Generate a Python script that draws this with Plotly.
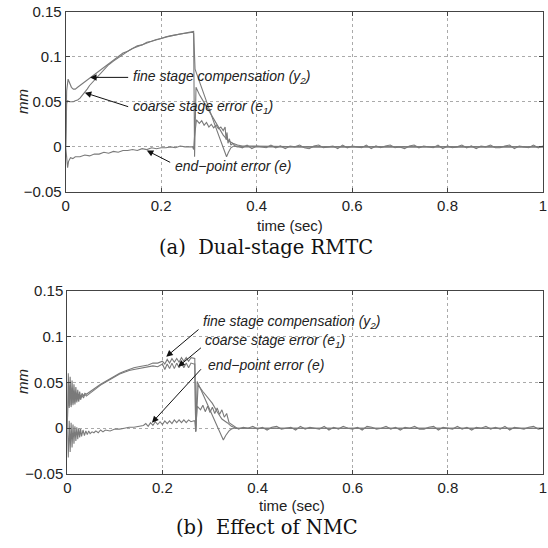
import numpy as np
import plotly.graph_objects as go

# ---------------- data: panel (a) Dual-stage RMTC ----------------
a_t_fine = [0, 0.002, 0.005, 0.008, 0.012, 0.016, 0.02, 0.025, 0.03, 0.035, 0.04, 0.045, 0.05,
            0.06, 0.07, 0.08, 0.09, 0.10, 0.11, 0.12, 0.13, 0.14, 0.15, 0.16, 0.17, 0.18, 0.19,
            0.20, 0.21, 0.22, 0.23, 0.24, 0.25, 0.26, 0.266, 0.268, 0.271, 0.28, 0.29, 0.30,
            0.31, 0.32, 0.33, 0.337, 0.341, 0.346, 0.352, 0.36]
a_fine = [0, 0.062, 0.075, 0.070, 0.066, 0.064, 0.064, 0.066, 0.068, 0.070, 0.072, 0.074, 0.076,
          0.080, 0.084, 0.088, 0.093, 0.097, 0.100, 0.104, 0.106, 0.109, 0.112, 0.113, 0.116, 0.117,
          0.119, 0.120, 0.122, 0.123, 0.124, 0.125, 0.126, 0.127, 0.128, 0.128, 0.086, 0.072,
          0.058, 0.043, 0.028, 0.014, -0.001, -0.011, -0.006, -0.001, 0.001, 0.0]

a_t_coarse = [0, 0.002, 0.004, 0.008, 0.012, 0.016, 0.02, 0.025, 0.03, 0.035, 0.04, 0.045, 0.05,
              0.055, 0.06, 0.07, 0.08, 0.09, 0.10, 0.11, 0.12, 0.13, 0.14, 0.15, 0.16, 0.18, 0.20,
              0.22, 0.24, 0.26, 0.266, 0.268, 0.270, 0.273, 0.28, 0.29, 0.30, 0.31, 0.32, 0.33,
              0.34, 0.35, 0.36, 0.37]
a_coarse = [0, 0.048, 0.051, 0.050, 0.050, 0.050, 0.051, 0.052, 0.054, 0.057, 0.060, 0.064, 0.068,
            0.071, 0.074, 0.080, 0.086, 0.091, 0.095, 0.099, 0.103, 0.106, 0.109, 0.111, 0.113,
            0.117, 0.120, 0.123, 0.125, 0.127, 0.127, 0.126, -0.011, 0.066, 0.058, 0.049, 0.040,
            0.031, 0.022, 0.013, 0.007, 0.004, 0.002, 0.001]

a_t_err = [0, 0.002, 0.004, 0.006, 0.008, 0.01, 0.015, 0.02, 0.03, 0.04, 0.05, 0.06, 0.07, 0.08,
           0.09, 0.10, 0.11, 0.12, 0.13, 0.14, 0.15, 0.16, 0.17, 0.18, 0.19, 0.20, 0.21, 0.22,
           0.23, 0.24, 0.25, 0.26, 0.266, 0.268, 0.270, 0.274, 0.28, 0.285, 0.29, 0.295, 0.30,
           0.305, 0.31, 0.315, 0.32, 0.325, 0.33, 0.334, 0.336, 0.338, 0.34, 0.343, 0.346, 0.35,
           0.355]
a_err = [0, -0.015, -0.023, -0.016, -0.013, -0.012, -0.013, -0.011, -0.011, -0.009, -0.010,
         -0.008, -0.008, -0.006, -0.007, -0.005, -0.006, -0.004, -0.004, -0.003, -0.004, -0.002,
         -0.003, -0.001, -0.002, -0.001, -0.001, 0.000, -0.001, 0.001, 0.000, 0.000, 0.000,
         -0.003, 0.012, 0.030, 0.026, 0.029, 0.024, 0.027, 0.022, 0.025, 0.021, 0.024, 0.020,
         0.022, 0.018, 0.022, 0.008, 0.016, 0.004, 0.009, 0.002, 0.004, 0.001]
a_noise = [0.001, -0.001, 0.002, -0.002, 0.001, 0.000, -0.001, 0.002, -0.001, 0.001, -0.002,
           0.001, 0.000, 0.002, -0.001, -0.002, 0.001, 0.002, -0.001, 0.000, 0.001, -0.002,
           0.002, -0.001, 0.001, 0.000, -0.001, 0.002, -0.002, 0.001, -0.001, 0.001, 0.002,
           -0.001, 0.000, -0.002, 0.001, 0.002, -0.001, 0.001, 0.000, -0.001, 0.002, -0.002,
           0.001, -0.001, 0.000, 0.002, -0.001, 0.001, -0.002, 0.001, 0.000, 0.002, -0.001,
           -0.001, 0.001, 0.002, -0.002, 0.001, 0.000, -0.001, 0.002, -0.001, 0.001]

# ---------------- data: panel (b) Effect of NMC ----------------
b_t_fine = [0, 0.002, 0.004, 0.006, 0.008, 0.010, 0.012, 0.014, 0.016, 0.018, 0.020, 0.022,
            0.024, 0.026, 0.028, 0.031, 0.034, 0.037, 0.040, 0.045, 0.05, 0.055, 0.06, 0.07,
            0.08, 0.09, 0.10, 0.11, 0.12, 0.13, 0.14, 0.15, 0.16, 0.17, 0.18, 0.19, 0.20, 0.205,
            0.21, 0.215, 0.22, 0.225, 0.23, 0.235, 0.24, 0.245, 0.25, 0.255, 0.26, 0.266, 0.268,
            0.270, 0.273, 0.28, 0.29, 0.30, 0.31, 0.32, 0.328, 0.333, 0.34, 0.345, 0.35]
b_fine = [0, 0.060, 0.024, 0.056, 0.025, 0.052, 0.027, 0.048, 0.028, 0.045, 0.030, 0.042, 0.031,
          0.040, 0.033, 0.038, 0.035, 0.038, 0.037, 0.039, 0.041, 0.043, 0.045, 0.048, 0.051,
          0.054, 0.057, 0.060, 0.062, 0.064, 0.066, 0.067, 0.068, 0.069, 0.071, 0.071, 0.073,
          0.070, 0.075, 0.071, 0.076, 0.072, 0.076, 0.072, 0.077, 0.073, 0.077, 0.073, 0.077,
          0.076, 0.076, -0.004, 0.051, 0.043, 0.031, 0.020, 0.008, -0.003, -0.013, -0.008,
          -0.003, -0.001, 0.000]

b_t_coarse = [0, 0.002, 0.004, 0.006, 0.008, 0.010, 0.012, 0.014, 0.016, 0.018, 0.020, 0.022,
              0.024, 0.026, 0.028, 0.031, 0.034, 0.037, 0.040, 0.045, 0.05, 0.06, 0.07, 0.08,
              0.09, 0.10, 0.11, 0.12, 0.13, 0.14, 0.15, 0.16, 0.17, 0.18, 0.19, 0.20, 0.205,
              0.21, 0.215, 0.22, 0.225, 0.23, 0.235, 0.24, 0.245, 0.25, 0.255, 0.26, 0.266,
              0.268, 0.270, 0.275, 0.285, 0.295, 0.305, 0.315, 0.325, 0.336, 0.345, 0.355]
b_coarse = [0, 0.050, 0.022, 0.047, 0.023, 0.044, 0.025, 0.041, 0.026, 0.039, 0.028, 0.037,
            0.029, 0.036, 0.031, 0.036, 0.033, 0.037, 0.035, 0.037, 0.039, 0.044, 0.047, 0.050,
            0.053, 0.056, 0.059, 0.061, 0.063, 0.064, 0.065, 0.066, 0.067, 0.068, 0.067, 0.070,
            0.064, 0.070, 0.065, 0.071, 0.065, 0.071, 0.066, 0.071, 0.066, 0.071, 0.066, 0.071,
            0.070, 0.070, -0.004, 0.047, 0.040, 0.034, 0.027, 0.018, 0.010, 0.006, 0.002, 0.000]

b_t_err = [0, 0.002, 0.004, 0.006, 0.008, 0.010, 0.012, 0.014, 0.016, 0.018, 0.020, 0.022, 0.024,
           0.026, 0.028, 0.030, 0.033, 0.036, 0.039, 0.042, 0.045, 0.048, 0.052, 0.056, 0.06,
           0.065, 0.07, 0.075, 0.08, 0.09, 0.10, 0.11, 0.12, 0.13, 0.14, 0.15, 0.16, 0.165, 0.17,
           0.175, 0.18, 0.185, 0.19, 0.195, 0.20, 0.205, 0.21, 0.215, 0.22, 0.225, 0.23, 0.235,
           0.24, 0.245, 0.25, 0.255, 0.26, 0.266, 0.268, 0.270, 0.273, 0.28, 0.285, 0.29, 0.295,
           0.30, 0.305, 0.31, 0.315, 0.32, 0.325, 0.33, 0.335, 0.34, 0.345, 0.35, 0.355]
b_err = [0, -0.032, 0.008, -0.026, 0.006, -0.021, 0.004, -0.017, 0.002, -0.014, 0.001, -0.012,
         0.000, -0.010, -0.001, -0.009, -0.002, -0.008, -0.003, -0.007, -0.003, -0.006, -0.004,
         -0.005, -0.003, -0.005, -0.002, -0.004, -0.002, -0.003, -0.001, -0.001, 0.000, 0.001,
         0.001, 0.002, 0.003, 0.005, 0.002, 0.006, 0.003, 0.007, 0.004, 0.007, 0.004, 0.008,
         0.005, 0.008, 0.005, 0.009, 0.006, 0.009, 0.006, 0.009, 0.006, 0.009, 0.007, 0.008,
         0.008, -0.003, 0.024, 0.020, 0.025, 0.018, 0.024, 0.017, 0.023, 0.016, 0.022, 0.015,
         0.020, 0.012, 0.016, 0.006, 0.004, 0.002, 0.000]
b_noise = [-0.001, 0.001, 0.000, 0.002, -0.001, 0.001, -0.002, 0.001, 0.002, -0.001, 0.000,
           0.001, -0.002, 0.002, -0.001, 0.001, 0.000, -0.001, 0.002, -0.002, 0.001, -0.001,
           0.002, 0.000, -0.001, 0.001, -0.002, 0.002, 0.001, -0.001, 0.000, 0.002, -0.001,
           0.001, -0.002, 0.001, 0.000, 0.002, -0.001, -0.001, 0.001, 0.002, -0.002, 0.001,
           0.000, -0.001, 0.002, -0.001, 0.001, -0.002, 0.001, 0.000, 0.002, -0.001, 0.001,
           -0.001, 0.002, -0.002, 0.001, 0.000, -0.001, 0.001, 0.002, -0.001, 0.000]

x_ticks = [0, 0.2, 0.4, 0.6, 0.8, 1]
x_labels = ["0", "0.2", "0.4", "0.6", "0.8", "1"]
y_ticks = [-0.05, 0, 0.05, 0.1, 0.15]
y_labels = ["\u22120.05", "0", "0.05", "0.1", "0.15"]

t_steady = np.round(np.arange(0.36, 1.0001, 0.01), 3)

W = H = 548
LINE = dict(color="#7a7a7a", width=1.1)

fig = go.Figure()


def add_panel(xa, ya, tf, vf, tc, vc, te, ve, noise):
    fig.add_trace(go.Scatter(x=list(tf) + [0.4, 0.6, 0.8, 1.0], y=list(vf) + [0, 0, 0, 0],
                             mode="lines", line=LINE, xaxis=xa, yaxis=ya, showlegend=False))
    fig.add_trace(go.Scatter(x=list(tc) + [0.5, 0.7, 0.9, 1.0], y=list(vc) + [0, 0, 0, 0],
                             mode="lines", line=LINE, xaxis=xa, yaxis=ya, showlegend=False))
    fig.add_trace(go.Scatter(x=list(te) + list(t_steady), y=list(ve) + list(noise),
                             mode="lines", line=LINE, xaxis=xa, yaxis=ya, showlegend=False))


add_panel("x", "y", a_t_fine, a_fine, a_t_coarse, a_coarse, a_t_err, a_err, a_noise)
add_panel("x2", "y2", b_t_fine, b_fine, b_t_coarse, b_coarse, b_t_err, b_err, b_noise)

TICKFONT = dict(family="Liberation Sans, Arial, sans-serif", size=15, color="#222")
axis_common = dict(range=[0, 1], tickvals=x_ticks, ticktext=x_labels, ticks="inside", ticklen=4,
                   tickcolor="#444", showline=True, linecolor="#444", linewidth=1, mirror="ticks",
                   showgrid=True, gridcolor="#aaaaaa", griddash="dot", gridwidth=1,
                   zeroline=False, tickfont=TICKFONT, automargin=False)
yaxis_common = dict(range=[-0.05, 0.15], tickvals=y_ticks, ticktext=y_labels, ticks="inside",
                    ticklen=4, tickcolor="#444", showline=True, linecolor="#444", linewidth=1,
                    mirror="ticks", showgrid=True, gridcolor="#aaaaaa", griddash="dot",
                    gridwidth=1, zeroline=False, tickfont=TICKFONT, automargin=False)


def px2paper_x(px):
    return px / W


def px2paper_y(py):
    return 1 - py / H


fig.update_layout(
    width=W, height=H, margin=dict(l=0, r=0, t=0, b=0, autoexpand=False),
    paper_bgcolor="white", plot_bgcolor="white",
    xaxis=dict(domain=[px2paper_x(65.7), px2paper_x(543)], anchor="y", **axis_common),
    yaxis=dict(domain=[px2paper_y(192), px2paper_y(11.5)], anchor="x", **yaxis_common),
    xaxis2=dict(domain=[px2paper_x(67.3), px2paper_x(543)], anchor="y2", **axis_common),
    yaxis2=dict(domain=[px2paper_y(474), px2paper_y(290.7)], anchor="x2", **yaxis_common),
)

LABFONT = dict(family="Liberation Sans, Arial, sans-serif", size=14, color="#222")
anns = []


def arrow(xr, yr, tail, head):
    anns.append(dict(xref=xr, yref=yr, axref=xr, ayref=yr, x=head[0], y=head[1],
                     ax=tail[0], ay=tail[1], text="", showarrow=True, arrowhead=2,
                     arrowsize=1.3, arrowwidth=1, arrowcolor="#111", standoff=0))


def label(xr, yr, pos, text):
    anns.append(dict(xref=xr, yref=yr, x=pos[0], y=pos[1], text=text, showarrow=False,
                     xanchor="left", yanchor="middle", font=LABFONT))


# panel a annotations
arrow("x", "y", (0.134, 0.077), (0.051, 0.077))
label("x", "y", (0.137, 0.077), "<i>fine stage compensation (y<sub>2</sub>)</i>")
arrow("x", "y", (0.134, 0.044), (0.040, 0.060))
label("x", "y", (0.137, 0.044), "<i>coarse stage error (e<sub>1</sub>)</i>")
arrow("x", "y", (0.222, -0.018), (0.170, -0.004))
label("x", "y", (0.225, -0.021), "<i>end\u2212point error (e)</i>")

# panel b annotations
arrow("x2", "y2", (0.279, 0.109), (0.208, 0.078))
label("x2", "y2", (0.282, 0.116), "<i>fine stage compensation (y<sub>2</sub>)</i>")
arrow("x2", "y2", (0.284, 0.089), (0.233, 0.067))
label("x2", "y2", (0.286, 0.095), "<i>coarse stage error (e<sub>1</sub>)</i>")
arrow("x2", "y2", (0.284, 0.066), (0.178, 0.006))
label("x2", "y2", (0.292, 0.069), "<i>end\u2212point error (e)</i>")

AXFONT = dict(family="Liberation Sans, Arial, sans-serif", size=15, color="#222")
CAPFONT = dict(family="DejaVu Serif, Liberation Serif, serif", size=19.5, color="#111")

for (cx, cy) in [(290, 225), (292, 505)]:
    anns.append(dict(xref="paper", yref="paper", x=px2paper_x(cx), y=px2paper_y(cy),
                     text="time (sec)", showarrow=False, xanchor="center", yanchor="middle",
                     font=AXFONT))
for cy in [102, 382]:
    anns.append(dict(xref="paper", yref="paper", x=px2paper_x(22), y=px2paper_y(cy),
                     text="<i>mm</i>", showarrow=False, xanchor="center", yanchor="middle",
                     textangle=-90, font=AXFONT))
anns.append(dict(xref="paper", yref="paper", x=px2paper_x(266), y=px2paper_y(247),
                 text="(a)\u00a0\u00a0Dual\u2010stage RMTC", showarrow=False, xanchor="center",
                 yanchor="middle", font=CAPFONT))
anns.append(dict(xref="paper", yref="paper", x=px2paper_x(267), y=px2paper_y(527),
                 text="(b)\u00a0\u00a0Effect of NMC", showarrow=False, xanchor="center",
                 yanchor="middle", font=CAPFONT))

fig.update_layout(annotations=anns)
fig.write_html(
    "out.html",
    config={"displayModeBar": False},
    post_script="document.body.style.margin='0';document.body.style.overflow='hidden';",
)
